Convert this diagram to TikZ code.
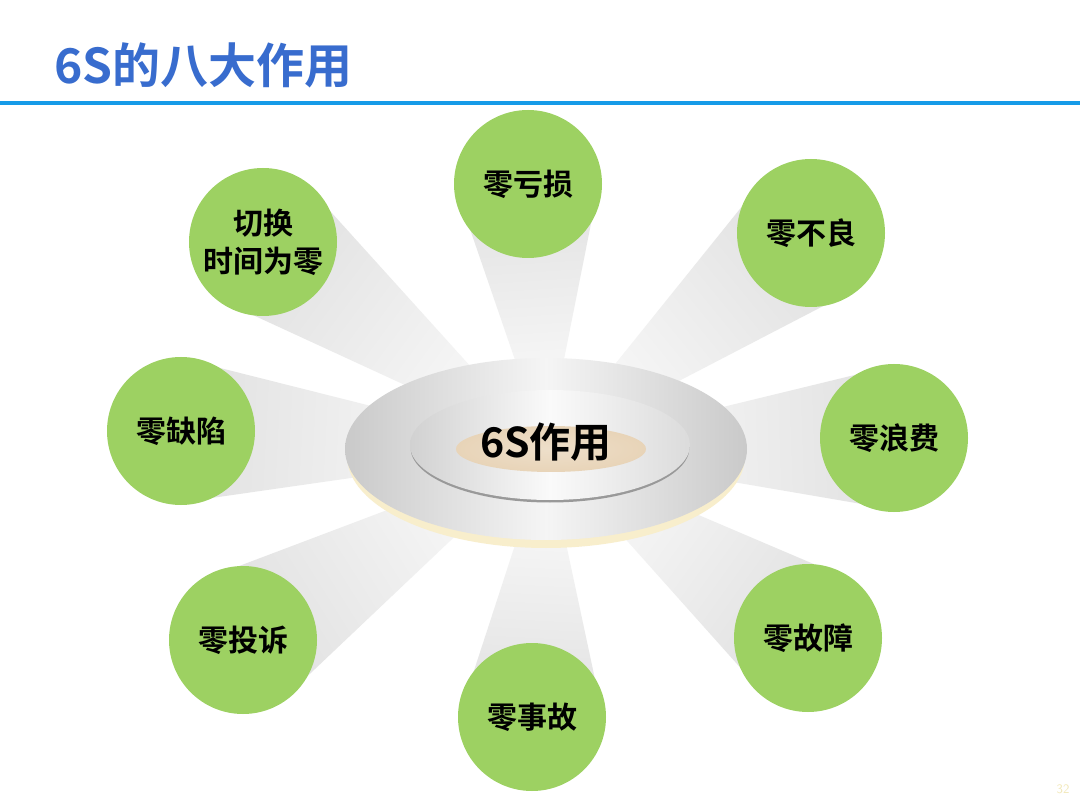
\documentclass[tikz,border=0pt]{standalone}
\usepackage{fontspec}
\newfontfamily\cjk{Noto Sans CJK SC}[BoldFont={Noto Sans CJK SC Bold}]
\definecolor{titleblue}{RGB}{56,108,206}
\definecolor{rulecol}{RGB}{22,155,232}
\definecolor{leaf}{RGB}{157,209,98}
\definecolor{tancol}{RGB}{232,212,184}
\definecolor{creamcol}{RGB}{248,238,204}
\definecolor{pnum}{RGB}{242,232,184}
\tikzset{
  zero/.style={circle, fill=leaf, minimum size=148pt, inner sep=0pt,
    font=\cjk\bfseries\fontsize{30}{38}\selectfont, align=center, text=black},
  beamshade/.style={left color=black!12, right color=white}
}
\newcommand\mybeam[2]{%
  \pgfmathsetmacro\bang{atan2(#2-450,546-#1)}%
  \pgfmathsetmacro\blen{veclen(546-#1,450-#2)}%
  \begin{scope}[transform canvas={shift={(#1,#2)},rotate=\bang}]
    \shade[beamshade] (0,72) -- (\blen,0) -- (0,-72) -- cycle;
  \end{scope}}
\begin{document}
\begin{tikzpicture}[x=1pt,y=-1pt]
\useasboundingbox[fill=white] (0,0) rectangle (1080,810);
% title and rule
\node[anchor=base west, inner sep=0pt, text=titleblue,
  font=\cjk\bfseries\fontsize{48}{48}\selectfont] (title) at (54,84) {6S的八大作用};
\fill[rulecol] (0,101) rectangle (1080,105);
% beams
\mybeam{528}{184}
\mybeam{811}{233}
\mybeam{894}{438}
\mybeam{808}{638}
\mybeam{532}{717}
\mybeam{243}{640}
\mybeam{181}{431}
\mybeam{263}{242}
% central disc
\fill[creamcol] (546,456) ellipse [x radius=199, y radius=92];
\shade[left color=black!21, right color=black!21, middle color=black!4]
  (546,449) ellipse [x radius=201, y radius=91];
\fill[black!40] (550,447.5) ellipse [x radius=139.5, y radius=55];
\shade[left color=black!18, right color=black!14, middle color=black!2]
  (550,445) ellipse [x radius=140, y radius=55];
\shade[inner color=tancol!75!white, outer color=tancol] (551,449) ellipse [x radius=95, y radius=23];
\node[font=\cjk\bfseries\fontsize{41}{41}\selectfont, text=black] (hub) at (546,442) {6S作用};
% circles
\node[zero] (n1) at (528,184) {零亏损};
\node[zero] (n2) at (811,233) {零不良};
\node[zero] (n3) at (894,438) {零浪费};
\node[zero] (n4) at (808,638) {零故障};
\node[zero] (n5) at (532,717) {零事故};
\node[zero] (n6) at (243,640) {零投诉};
\node[zero] (n7) at (181,431) {零缺陷};
\node[zero] (n8) at (263,242) {切换\\时间为零};
% page number
\node[text=pnum, font=\sffamily\fontsize{13}{13}\selectfont] (pg) at (1063,789) {32};
\end{tikzpicture}
\end{document}
